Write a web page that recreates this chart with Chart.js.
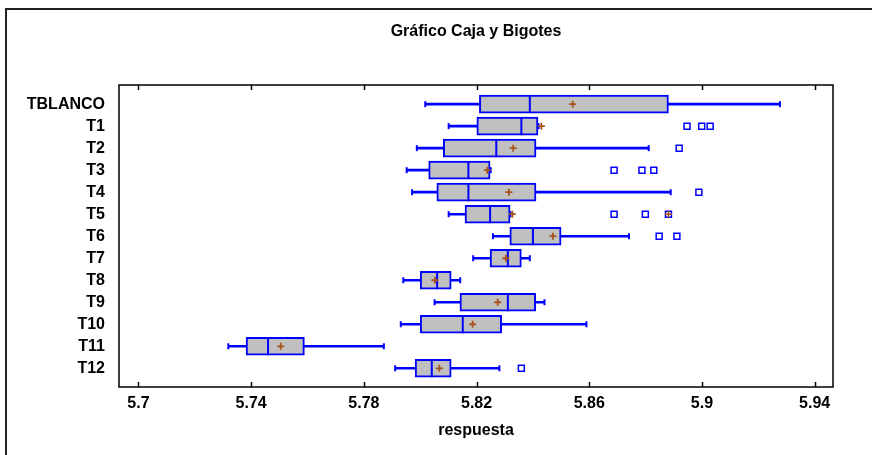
<!DOCTYPE html>
<html>
<head>
<meta charset="utf-8">
<script src="https://cdn.jsdelivr.net/npm/chart.js@4/dist/chart.umd.min.js"></script>
<style>
  html, body { margin: 0; padding: 0; background: #fff; }
</style>
</head>
<body>
<canvas id="cajaChart" width="872" height="455"></canvas>
<script>
// Tratamientos (de arriba hacia abajo)
const tratamientos = ['TBLANCO', 'T1', 'T2', 'T3', 'T4', 'T5', 'T6', 'T7', 'T8', 'T9', 'T10', 'T11', 'T12'];

// Resumen de cinco números y media de cada tratamiento
const minimos  = [5.8018, 5.8101, 5.7988, 5.7952, 5.7971, 5.8101, 5.8258, 5.8188, 5.7940, 5.8051, 5.7931, 5.7319, 5.7911];
const q1       = [5.8210, 5.8201, 5.8082, 5.8030, 5.8059, 5.8159, 5.8318, 5.8248, 5.8000, 5.8141, 5.8000, 5.7382, 5.7982];
const medianas = [5.8389, 5.8359, 5.8270, 5.8171, 5.8171, 5.8248, 5.8400, 5.8311, 5.8060, 5.8311, 5.8151, 5.7460, 5.8041];
const q3       = [5.8881, 5.8418, 5.8411, 5.8248, 5.8411, 5.8319, 5.8500, 5.8359, 5.8110, 5.8410, 5.8289, 5.7589, 5.8110];
const maximos  = [5.9277, 5.8420, 5.8811, 5.8250, 5.8889, 5.8320, 5.8741, 5.8389, 5.8142, 5.8441, 5.8590, 5.7871, 5.8281];
const medias   = [5.8541, 5.8430, 5.8330, 5.8238, 5.8315, 5.8327, 5.8471, 5.8304, 5.8052, 5.8275, 5.8186, 5.7505, 5.8068];

// Valores atípicos (fila del tratamiento, valor)
const atipicosFila  = [1, 1, 1, 2, 3, 3, 3, 4, 5, 5, 5, 6, 6, 12];
const atipicosValor = [5.8947, 5.8999, 5.9029, 5.8919, 5.8688, 5.8787, 5.8829, 5.8989, 5.8688, 5.8799, 5.8881, 5.8848, 5.8911, 5.8359];
// atípicos lejanos (cuadro con cruz)
const lejanosFila  = [5];
const lejanosValor = [5.8881];

const marcasX = [5.7, 5.74, 5.78, 5.82, 5.86, 5.9, 5.94];

const TITULO = 'Gráfico Caja y Bigotes';
const AZUL = '#0000ff';
const CAFE = '#a8531e';
const fuente = { family: "'Liberation Sans', Arial, sans-serif", size: 16, weight: 'bold' };

// marco exterior, título centrado sobre el área de trazado y marcas hacia adentro
const marcos = {
    id: 'marcos',
    beforeDraw(chart) {
        const c = chart.ctx;
        const a = chart.chartArea;
        c.save();
        c.fillStyle = '#fff';
        c.fillRect(0, 0, chart.width, chart.height);
        c.strokeStyle = '#222';
        c.lineWidth = 2;
        c.strokeRect(6, 9, chart.width + 20, chart.height + 20);
        c.fillStyle = '#000';
        c.font = `bold ${fuente.size}px ${fuente.family}`;
        c.textAlign = 'center';
        c.textBaseline = 'middle';
        c.fillText(TITULO, (a.left + a.right) / 2, 32);
        c.restore();
    },
    afterDraw(chart) {
        const c = chart.ctx;
        const a = chart.chartArea;
        const x = chart.scales.x;
        c.save();
        c.strokeStyle = '#000';
        c.lineWidth = 1.5;
        c.strokeRect(a.left, a.top, a.right - a.left, a.bottom - a.top);
        c.beginPath();
        marcasX.forEach(v => {
            const px = Math.round(x.getPixelForValue(v)) + 0.5;
            c.moveTo(px, a.top);
            c.lineTo(px, a.top + 5);
            c.moveTo(px, a.bottom);
            c.lineTo(px, a.bottom - 5);
        });
        c.stroke();
        c.restore();
    }
};

const puntos = (filas, valores) => filas.map((f, i) => ({ x: valores[i], y: f }));

new Chart(document.getElementById('cajaChart'), {
    type: 'bar',
    data: {
        datasets: [
            {
                type: 'scatter',
                label: 'Media',
                data: medias.map((v, i) => ({ x: v, y: i })),
                pointStyle: 'cross',
                pointRadius: 3.5,
                borderColor: CAFE,
                borderWidth: 1.8,
                order: 0
            },
            {
                type: 'scatter',
                label: 'Lejanos',
                data: puntos(lejanosFila, lejanosValor),
                pointStyle: 'cross',
                pointRadius: 3.5,
                borderColor: CAFE,
                borderWidth: 1.5,
                order: 0
            },
            {
                type: 'scatter',
                label: 'Mediana',
                data: medianas.map((v, i) => ({ x: v, y: i })),
                pointStyle: 'line',
                pointRotation: 90,
                pointRadius: 9,
                borderColor: AZUL,
                borderWidth: 2,
                order: 1
            },
            {
                type: 'scatter',
                label: 'Extremos',
                data: minimos.map((v, i) => ({ x: v, y: i })).concat(maximos.map((v, i) => ({ x: v, y: i }))),
                pointStyle: 'line',
                pointRotation: 90,
                pointRadius: 3,
                borderColor: AZUL,
                borderWidth: 2,
                order: 2
            },
            {
                type: 'scatter',
                label: 'Atípicos',
                data: puntos(atipicosFila, atipicosValor),
                pointStyle: 'rect',
                pointRadius: 4.2,
                backgroundColor: 'rgba(0,0,0,0)',
                borderColor: AZUL,
                borderWidth: 1.5,
                order: 2
            },
            {
                label: 'Caja',
                data: q1.map((v, i) => ({ y: i, x: [v, q3[i]] })),
                barThickness: 18,
                backgroundColor: '#c0c0c0',
                borderColor: AZUL,
                borderWidth: 2,
                borderSkipped: false,
                grouped: false,
                order: 3
            },
            {
                label: 'Bigotes',
                data: minimos.map((v, i) => ({ y: i, x: [v, maximos[i]] })),
                barThickness: 2,
                backgroundColor: AZUL,
                borderWidth: 0,
                grouped: false,
                order: 4
            }
        ]
    },
    options: {
        indexAxis: 'y',
        responsive: false,
        animation: false,
        events: [],
        layout: { padding: { left: 0, right: 39, top: 85, bottom: 15 } },
        plugins: {
            legend: { display: false },
            tooltip: { enabled: false },
            title: { display: false }
        },
        scales: {
            x: {
                type: 'linear',
                position: 'bottom',
                min: 5.6931,
                max: 5.9465,
                grid: { display: false, drawTicks: false },
                border: { display: false },
                afterBuildTicks: s => { s.ticks = marcasX.map(v => ({ value: v })); },
                afterFit: s => { s.height = 53; },
                ticks: {
                    color: '#000',
                    font: fuente,
                    padding: 7,
                    callback: v => String(v)
                },
                title: {
                    display: true,
                    text: 'respuesta',
                    color: '#000',
                    font: fuente,
                    padding: { top: 2, bottom: 0 }
                }
            },
            y: {
                type: 'linear',
                reverse: true,
                offset: false,
                min: -0.87,
                max: 12.85,
                grid: { display: false, drawTicks: false, offset: false },
                border: { display: false },
                afterBuildTicks: s => { s.ticks = tratamientos.map((t, i) => ({ value: i })); },
                afterFit: s => { s.width = 119; },
                ticks: {
                    color: '#000',
                    font: fuente,
                    padding: 14,
                    callback: v => tratamientos[v]
                }
            }
        }
    },
    plugins: [marcos]
});
</script>
</body>
</html>
